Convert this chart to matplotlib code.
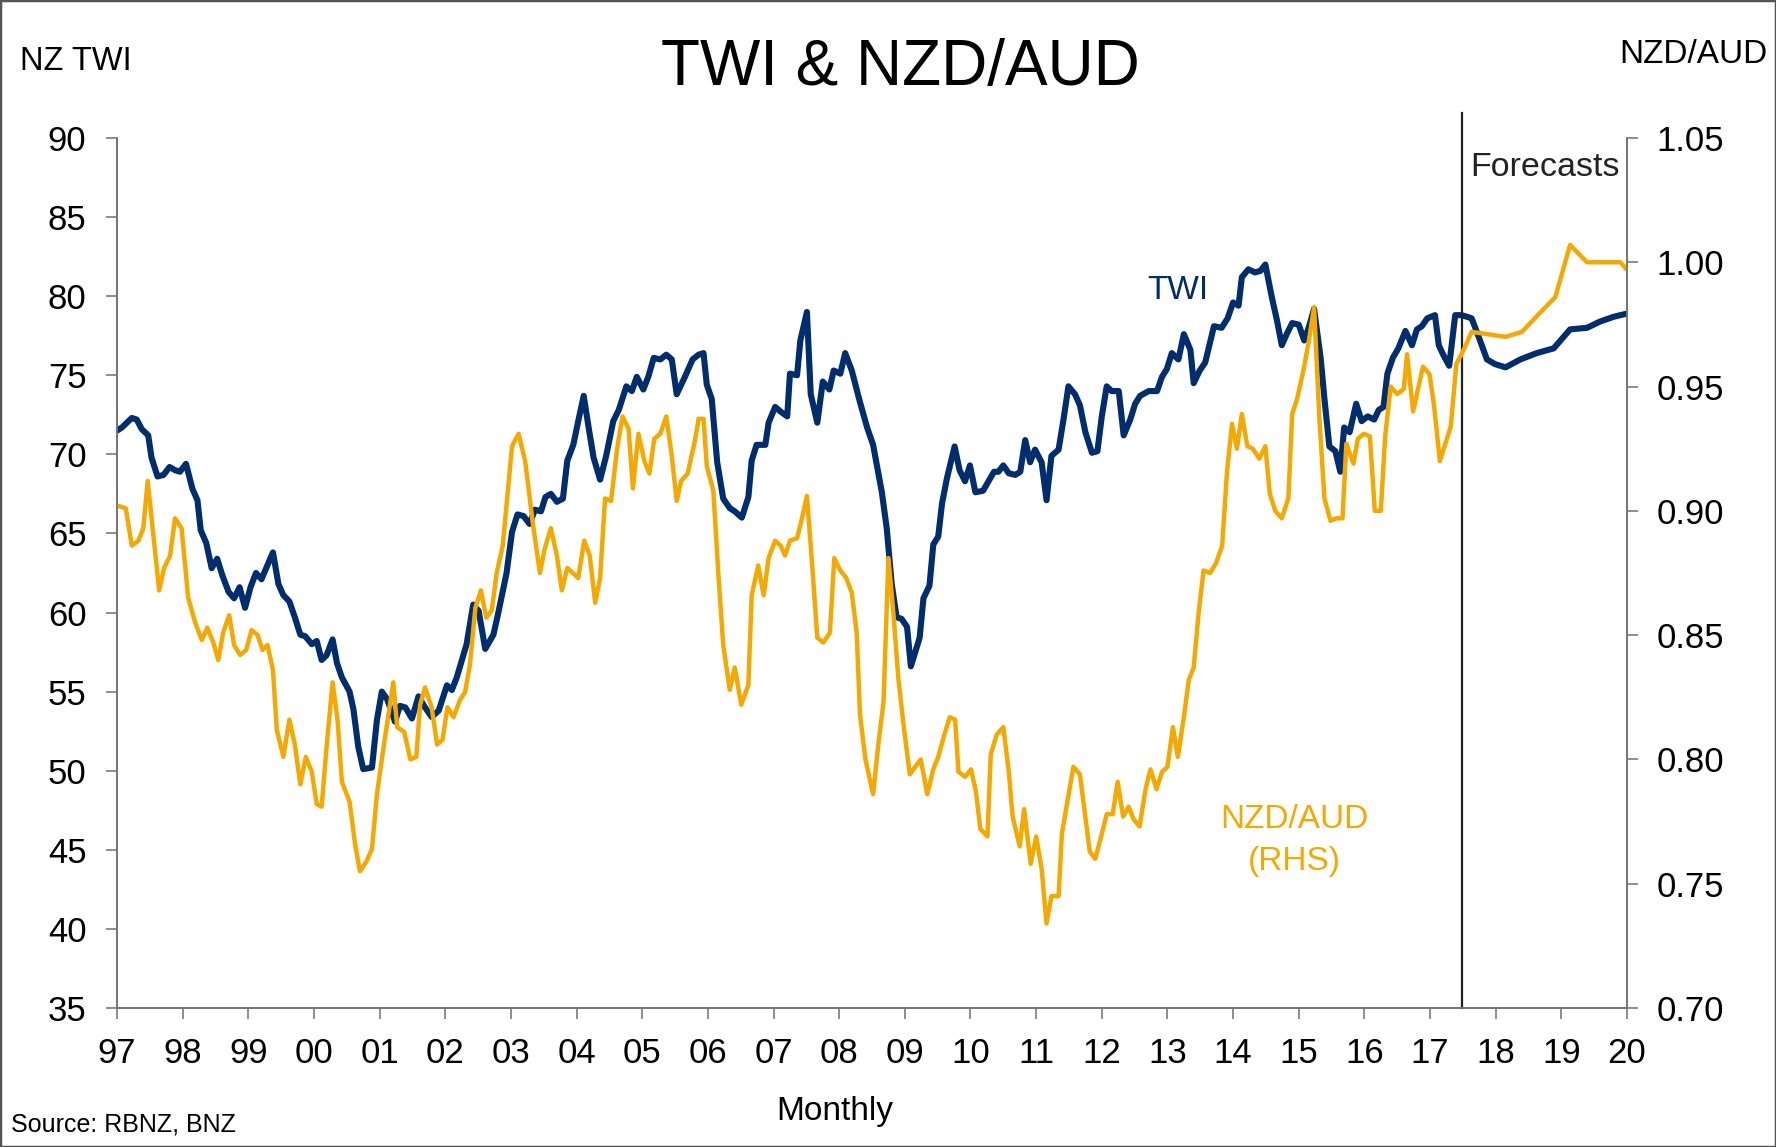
import numpy as np
import matplotlib
matplotlib.use("Agg")
import matplotlib.pyplot as plt
from matplotlib.patches import Rectangle

plt.rcParams["font.family"] = ["Liberation Sans", "DejaVu Sans"]

NAVY = "#002D6E"
GOLD = "#F5A800"
GREY = "#707070"

# ---- data: months counted from Jan 1997 ----
twi_month = [
    0, 0.9, 1.8, 2.7, 3.6, 4.5, 5.7, 6.3, 7.4, 8.5,
    9.6, 10.6, 11.5, 12.6, 13.8, 14.7, 15.3, 16.3, 17.3, 18.3,
    19.3, 20.4, 21.4, 22.4, 23.4, 24.4, 25.4, 26.4, 27.5, 28.5,
    29.5, 30.4, 31.5, 32.5, 33.5, 34.4, 35.6, 36.5, 37.4, 38.3,
    39.4, 40.2, 41.1, 42.5, 43.2, 44.1, 45.0, 46.6, 47.5, 48.4,
    49.4, 50.8, 51.7, 52.7, 53.9, 55.1, 56.3, 57.5, 58.8, 60.3,
    61.2, 62.1, 63.9, 65.1, 66.1, 67.3, 68.8, 69.7, 71.2, 72.2,
    73.2, 74.3, 75.4, 76.4, 77.5, 78.3, 79.3, 80.4, 81.5, 82.3,
    83.4, 84.3, 85.3, 86.2, 87.1, 88.3, 89.4, 90.7, 91.7, 93.1,
    94.1, 95.0, 96.2, 97.1, 98.1, 99.3, 100.4, 101.4, 102.3, 103.8,
    105.2, 106.3, 107.2, 107.8, 108.7, 109.7, 110.8, 112.0, 112.9, 114.2,
    115.4, 116.0, 116.9, 118.5, 119.1, 120.3, 121.3, 122.5, 123.0, 124.3,
    124.9, 126.1, 126.8, 128.0, 129.0, 130.2, 131.0, 132.2, 133.1, 134.3,
    135.8, 137.1, 138.2, 139.8, 140.7, 141.6, 142.5, 143.4, 144.4, 145.1,
    146.7, 147.4, 148.5, 149.2, 150.1, 150.8, 151.7, 153.1, 154.0, 155.0,
    155.9, 156.9, 158.3, 159.3, 160.3, 161.1, 162.0, 163.0, 164.2, 165.1,
    166.0, 166.9, 167.8, 169.0, 169.9, 170.8, 172.1, 173.0, 173.9, 175.1,
    176.0, 177.0, 178.2, 179.2, 180.0, 180.9, 181.8, 183.1, 184.0, 185.2,
    186.1, 187.0, 188.6, 190.1, 191.0, 191.9, 192.8, 194.0, 195.0, 196.2,
    196.8, 197.9, 198.9, 200.5, 201.9, 203.0, 204.0, 205.0, 205.6, 206.8,
    208.0, 209.0, 209.9, 211.1, 212.0, 212.9, 213.8, 214.8, 216.0, 217.0,
    217.9, 218.8, 220.0, 220.7, 221.6, 222.7, 223.6, 224.3, 225.3, 226.5,
    227.5, 228.6, 229.8, 230.6, 231.5, 232.2, 233.2, 234.2, 235.5, 236.7,
    237.6, 238.5, 239.5, 240.9, 241.6, 242.4, 243.5, 244.6, 245.8, 247.6,
    248.6, 250.4, 251.9, 253.8, 256.5, 259.5, 262.6, 265.6, 268.7, 271.1,
    273.6, 276.0,
]
twi = [
    71.5, 71.7, 72.0, 72.3, 72.2, 71.6, 71.2, 69.8, 68.6, 68.7,
    69.2, 69.0, 68.9, 69.4, 67.8, 67.1, 65.2, 64.4, 62.8, 63.4,
    62.3, 61.3, 60.9, 61.6, 60.3, 61.6, 62.5, 62.1, 63.0, 63.8,
    61.8, 61.1, 60.7, 59.7, 58.6, 58.5, 58.0, 58.2, 57.0, 57.3,
    58.3, 56.8, 55.9, 55.0, 53.9, 51.5, 50.1, 50.2, 53.2, 55.0,
    54.5, 53.1, 54.1, 54.0, 53.3, 54.7, 54.0, 53.4, 53.8, 55.4,
    55.1, 55.9, 58.0, 60.5, 60.1, 57.7, 58.6, 60.0, 62.5, 65.1,
    66.2, 66.1, 65.6, 66.5, 66.4, 67.3, 67.5, 67.0, 67.2, 69.6,
    70.6, 72.1, 73.7, 71.7, 69.8, 68.4, 69.9, 72.1, 72.8, 74.3,
    74.0, 74.9, 74.1, 74.9, 76.1, 76.0, 76.3, 76.0, 73.8, 74.9,
    76.0, 76.3, 76.4, 74.4, 73.5, 69.5, 67.2, 66.6, 66.4, 66.0,
    67.3, 69.6, 70.6, 70.6, 72.0, 73.0, 72.7, 72.4, 75.1, 75.0,
    77.2, 79.0, 73.8, 72.0, 74.6, 74.1, 75.3, 75.1, 76.4, 75.3,
    73.3, 71.7, 70.6, 67.6, 65.3, 61.8, 59.7, 59.6, 59.1, 56.6,
    58.4, 60.9, 61.7, 64.3, 64.8, 66.9, 68.5, 70.5, 69.0, 68.3,
    69.3, 67.6, 67.7, 68.3, 68.9, 68.9, 69.3, 68.8, 68.7, 68.9,
    70.9, 69.5, 70.3, 69.5, 67.1, 69.9, 70.3, 72.2, 74.3, 73.8,
    73.1, 71.4, 70.1, 70.2, 72.4, 74.3, 74.0, 74.0, 71.2, 72.2,
    73.2, 73.7, 74.0, 74.0, 74.9, 75.4, 76.4, 76.0, 77.6, 76.6,
    74.5, 75.3, 75.8, 78.1, 78.0, 78.6, 79.6, 79.4, 81.2, 81.7,
    81.5, 81.6, 82.0, 79.9, 78.5, 76.9, 77.6, 78.3, 78.2, 77.2,
    78.1, 79.2, 76.1, 73.5, 70.5, 70.2, 68.9, 71.7, 71.4, 73.2,
    72.1, 72.4, 72.2, 72.8, 73.0, 75.1, 76.1, 76.7, 77.8, 76.9,
    77.9, 78.1, 78.6, 78.8, 76.9, 76.3, 75.6, 78.8, 78.8, 78.6,
    77.7, 76.0, 75.7, 75.5, 76.0, 76.4, 76.7, 77.9, 78.0, 78.4,
    78.7, 78.9,
]

nzdaud_month = [
    0.2, 1.6, 2.7, 3.9, 4.8, 5.6, 6.5, 7.7, 8.6, 9.7,
    10.6, 11.8, 13.0, 14.3, 15.5, 16.5, 17.6, 18.5, 19.4, 20.5,
    21.4, 22.5, 23.6, 24.6, 25.7, 26.6, 27.5, 28.5, 29.2, 30.4,
    31.5, 32.5, 33.5, 34.5, 35.6, 36.5, 37.4, 38.3, 39.4, 40.3,
    41.1, 42.5, 43.5, 44.4, 45.6, 46.6, 47.5, 48.4, 49.4, 50.5,
    51.2, 52.5, 53.6, 54.7, 55.4, 56.3, 57.5, 58.5, 59.5, 60.4,
    61.5, 62.7, 63.6, 64.5, 65.5, 66.5, 67.5, 68.5, 69.4, 70.5,
    72.2, 73.4, 74.6, 76.0, 77.3, 78.2, 79.3, 80.4, 81.3, 82.3,
    84.3, 85.4, 86.4, 87.4, 88.3, 89.2, 90.3, 91.4, 92.4, 93.5,
    94.3, 95.3, 96.4, 97.3, 98.2, 99.3, 100.4, 101.4, 102.3, 103.1,
    104.3, 105.6, 106.3, 107.2, 107.8, 109.0, 109.9, 110.8, 112.0, 112.9,
    114.1, 115.4, 116.0, 117.2, 118.2, 119.1, 120.3, 121.3, 122.1, 123.0,
    124.3, 125.2, 126.1, 127.1, 128.0, 129.1, 130.3, 131.1, 132.2, 133.3,
    134.3, 135.2, 135.8, 136.8, 138.2, 139.2, 140.1, 141.0, 141.9, 142.8,
    143.7, 144.9, 145.9, 146.9, 148.1, 149.2, 150.1, 151.1, 152.2, 153.2,
    153.8, 155.0, 156.1, 157.0, 157.8, 159.1, 159.7, 160.8, 162.0, 163.0,
    163.7, 165.0, 165.8, 167.0, 168.0, 169.0, 169.9, 170.8, 172.1, 172.7,
    174.8, 176.0, 177.8, 178.8, 180.0, 180.9, 182.0, 182.9, 183.9, 184.9,
    185.8, 186.9, 188.0, 188.9, 190.0, 191.0, 192.0, 193.0, 193.9, 195.0,
    195.9, 196.8, 197.7, 198.6, 199.8, 200.9, 202.0, 202.9, 203.8, 204.7,
    205.6, 206.6, 207.6, 208.8, 209.9, 210.7, 211.7, 212.9, 214.1, 214.8,
    215.7, 216.9, 217.9, 218.8, 219.8, 220.7, 221.8, 222.9, 224.0, 224.7,
    226.0, 226.8, 227.9, 229.0, 229.9, 231.0, 231.8, 232.8, 234.0, 235.2,
    235.8, 236.9, 238.7, 239.9, 240.7, 241.8, 242.8, 243.8, 244.8, 246.2,
    247.6, 250.7, 253.8, 256.8, 259.8, 262.9, 265.6, 268.7, 271.7, 274.8,
    276.0,
]
nzdaud = [
    0.902, 0.901, 0.886, 0.888, 0.893, 0.912, 0.893, 0.868, 0.877, 0.882,
    0.897, 0.893, 0.865, 0.855, 0.848, 0.853, 0.847, 0.840, 0.851, 0.858,
    0.846, 0.842, 0.844, 0.852, 0.850, 0.844, 0.846, 0.836, 0.812, 0.801,
    0.816, 0.806, 0.790, 0.801, 0.795, 0.782, 0.781, 0.805, 0.831, 0.816,
    0.791, 0.783, 0.766, 0.755, 0.759, 0.764, 0.786, 0.800, 0.815, 0.831,
    0.813, 0.811, 0.800, 0.801, 0.822, 0.829, 0.821, 0.806, 0.808, 0.821,
    0.817, 0.824, 0.827, 0.838, 0.861, 0.868, 0.857, 0.860, 0.875, 0.886,
    0.926, 0.931, 0.920, 0.895, 0.875, 0.885, 0.893, 0.882, 0.868, 0.877,
    0.873, 0.888, 0.882, 0.863, 0.873, 0.905, 0.904, 0.925, 0.938, 0.933,
    0.909, 0.931, 0.920, 0.915, 0.929, 0.931, 0.938, 0.922, 0.904, 0.912,
    0.915, 0.928, 0.937, 0.937, 0.918, 0.908, 0.875, 0.846, 0.828, 0.837,
    0.822, 0.830, 0.866, 0.878, 0.866, 0.881, 0.888, 0.886, 0.882, 0.888,
    0.889, 0.897, 0.906, 0.877, 0.849, 0.847, 0.851, 0.881, 0.876, 0.873,
    0.867, 0.851, 0.818, 0.800, 0.786, 0.807, 0.823, 0.881, 0.859, 0.833,
    0.815, 0.794, 0.797, 0.800, 0.786, 0.796, 0.801, 0.809, 0.817, 0.816,
    0.795, 0.793, 0.796, 0.787, 0.772, 0.769, 0.802, 0.810, 0.813, 0.795,
    0.777, 0.765, 0.780, 0.758, 0.769, 0.756, 0.734, 0.745, 0.745, 0.770,
    0.797, 0.794, 0.763, 0.760, 0.770, 0.778, 0.778, 0.791, 0.777, 0.781,
    0.776, 0.773, 0.788, 0.796, 0.788, 0.795, 0.797, 0.813, 0.801, 0.817,
    0.832, 0.837, 0.859, 0.876, 0.875, 0.879, 0.886, 0.916, 0.935, 0.925,
    0.939, 0.926, 0.925, 0.921, 0.926, 0.907, 0.900, 0.897, 0.905, 0.939,
    0.945, 0.957, 0.969, 0.982, 0.936, 0.905, 0.896, 0.897, 0.897, 0.927,
    0.919, 0.929, 0.931, 0.930, 0.900, 0.900, 0.930, 0.950, 0.947, 0.949,
    0.963, 0.940, 0.958, 0.955, 0.943, 0.920, 0.927, 0.934, 0.959, 0.965,
    0.972, 0.971, 0.970, 0.972, 0.979, 0.986, 1.007, 1.000, 1.000, 1.000,
    0.997,
]

forecast_month = 245.8          # forecasts start mid-2017
years = list(range(1997, 2021))
twi_ticks = list(range(35, 91, 5))
nzd_ticks = [0.70, 0.75, 0.80, 0.85, 0.90, 0.95, 1.00, 1.05]


def to_year(months):
    return 1997 + np.asarray(months) / 12.0


fig = plt.figure(figsize=(17.76, 11.47), dpi=100)
ax = fig.add_axes([0.0659, 0.1212, 0.8502, 0.7585])
ax2 = ax.twinx()

ax.plot(to_year(twi_month), twi, color=NAVY, lw=4.4,
        solid_joinstyle="round", solid_capstyle="round")
ax2.plot(to_year(nzdaud_month), nzdaud, color=GOLD, lw=3.2,
         solid_joinstyle="round", solid_capstyle="round")

ax.set_xlim(1997, 2020)
ax.set_ylim(35, 90)
ax2.set_ylim(0.70, 1.05)

ax.set_xticks(years)
ax.set_xticklabels([f"{y % 100:02d}" for y in years])
ax.set_yticks(twi_ticks)
ax2.set_yticks(nzd_ticks)
ax2.set_yticklabels([f"{v:.2f}" for v in nzd_ticks])

for a in (ax, ax2):
    a.spines["top"].set_visible(False)
    for s in a.spines.values():
        s.set_color(GREY)
        s.set_linewidth(1.1)
    a.tick_params(direction="out", length=8, width=1.1, color=GREY,
                  labelsize=25, labelcolor="black")
ax.tick_params(axis="x", pad=13)
ax.tick_params(axis="y", pad=14)
ax2.tick_params(axis="y", pad=13)

# forecast divider runs a little above the plot area
ax.axvline(to_year(forecast_month), ymin=0, ymax=1.029, color="#222222",
           lw=1.6, clip_on=False)

fig.text(0.8277, 0.8466, "Forecasts", fontsize=24.5, color="#222222",
         ha="left", va="baseline")
fig.text(0.663, 0.739, "TWI", fontsize=24, color=NAVY,
         ha="center", va="baseline")
fig.text(0.729, 0.278, "NZD/AUD", fontsize=24, color=GOLD,
         ha="center", va="baseline")
fig.text(0.729, 0.2415, "(RHS)", fontsize=24, color=GOLD,
         ha="center", va="baseline")

fig.text(0.507, 0.9259, "TWI & NZD/AUD", fontsize=46, ha="center",
         va="baseline")
fig.text(0.0113, 0.939, "NZ TWI", fontsize=23.5, ha="left", va="baseline")
fig.text(0.995, 0.945, "NZD/AUD", fontsize=24, ha="right", va="baseline")
fig.text(0.470, 0.0235, "Monthly", fontsize=24, ha="center", va="baseline")
fig.text(0.0064, 0.0135, "Source: RBNZ, BNZ", fontsize=18, ha="left",
         va="baseline")

fig.patches.append(Rectangle((0, 0), 1, 1, transform=fig.transFigure,
                             fill=False, edgecolor="#555555", lw=2.5))

fig.savefig("out.png", dpi=100)
